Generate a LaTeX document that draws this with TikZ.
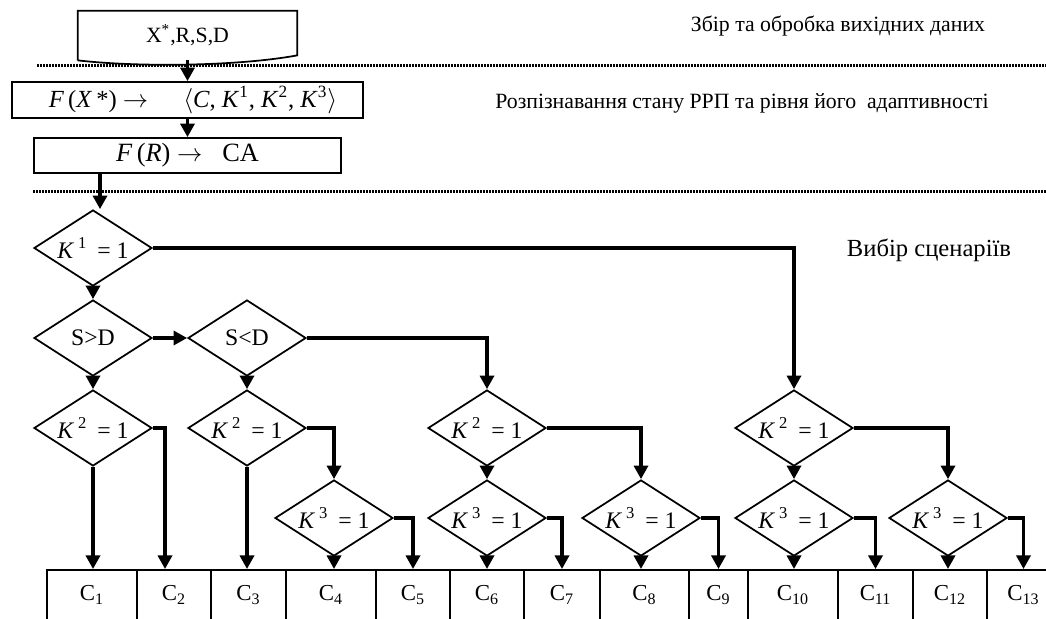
\documentclass[tikz,border=0pt]{standalone}
\usepackage{fontspec}
\setmainfont{Liberation Serif}
\usetikzlibrary{shapes.geometric,arrows.meta}

\begin{document}
\begin{tikzpicture}[x=0.2mm,y=-0.2mm,font=\fontsize{12.4}{14}\selectfont,
	cond/.style={draw,diamond,line width=0.35mm,minimum width=23.6mm,minimum height=15.2mm,inner sep=0pt,font=\fontsize{13.5}{15}\selectfont},
	blk/.style={draw,rectangle,line width=0.35mm,inner sep=0pt},
	cell/.style={draw,rectangle,line width=0.35mm,anchor=north,inner sep=0pt,text height=6.2mm,text depth=8mm,font=\fontsize{13}{15}\selectfont},
	flow/.style={line width=0.65mm,-{Triangle[length=2.7mm,width=2.8mm]}},
	sep/.style={line width=0.6mm,dash pattern=on 0.3mm off 0.3mm}]

	\useasboundingbox (0,0) rectangle (1046,619);
	\clip (0,0) rectangle (1046,619);

	% input data and recognition
	\node[minimum width=43.8mm,minimum height=9.8mm,inner sep=0pt] (inp) at (187.5,35.5) {X\textsuperscript{*},R,S,D};
	\draw[line width=0.35mm] (inp.south west) -- (inp.north west) -- (inp.north east) -- ([yshift=1mm]inp.south east) .. controls +(-12mm,-2.2mm) and +(12mm,-1.4mm) .. (inp.south west);
	\node[blk,minimum width=70.2mm,minimum height=7.2mm,font=\fontsize{14}{16}\selectfont] (map) at (187.5,100) {\hspace{2.2mm}\textit{F}\,(\textit{X}\,*) $\rightarrow$\hspace{7mm}$\Big\langle$\textit{C}, \textit{K}\textsuperscript{1}, \textit{K}\textsuperscript{2}, \textit{K}\textsuperscript{3}$\Big\rangle$};
	\node[blk,minimum width=61.4mm,minimum height=7mm,font=\fontsize{15}{17}\selectfont] (ca) at (187.5,155.5) {\textit{F}\,(\textit{R}) $\rightarrow$\hspace{4mm}CA\hspace{9.8mm}};

	\node (lbl1) at (838,26) {Збір та обробка вихідних даних};
	\node (lbl2) at (742,103) {Розпізнавання стану РРП та рівня його~ адаптивності};
	\node[font=\fontsize{14}{16}\selectfont] (lbl3) at (929,250) {Вибір сценаріїв};

	\draw[sep] (37,66) -- (1046,66);
	\draw[sep] (33,192) -- (1046,192);

	% scenario choice
	\node[cond] (k1) at (93,248) {\makebox[8mm]{\textit{K}\,\textsuperscript{1}\hspace{2mm}=\hspace{1.2mm}1}};
	\node[cond] (sd1) at (93,338) {\makebox[8mm]{S>D}};
	\node[cond] (sd2) at (247,338) {\makebox[8mm]{S<D}};

	\node[cond] (k2a) at (93,428) {\makebox[8mm]{\textit{K}\,\textsuperscript{2}\hspace{2mm}=\hspace{1.2mm}1}};
	\node[cond] (k2b) at (247,428) {\makebox[8mm]{\textit{K}\,\textsuperscript{2}\hspace{2mm}=\hspace{1.2mm}1}};
	\node[cond] (k2c) at (487,428) {\makebox[8mm]{\textit{K}\,\textsuperscript{2}\hspace{2mm}=\hspace{1.2mm}1}};
	\node[cond] (k2d) at (794,428) {\makebox[8mm]{\textit{K}\,\textsuperscript{2}\hspace{2mm}=\hspace{1.2mm}1}};

	\node[cond] (k3a) at (334,518) {\makebox[8mm]{\textit{K}\,\textsuperscript{3}\hspace{2mm}=\hspace{1.2mm}1}};
	\node[cond] (k3b) at (487,518) {\makebox[8mm]{\textit{K}\,\textsuperscript{3}\hspace{2mm}=\hspace{1.2mm}1}};
	\node[cond] (k3c) at (641,518) {\makebox[8mm]{\textit{K}\,\textsuperscript{3}\hspace{2mm}=\hspace{1.2mm}1}};
	\node[cond] (k3d) at (794,518) {\makebox[8mm]{\textit{K}\,\textsuperscript{3}\hspace{2mm}=\hspace{1.2mm}1}};
	\node[cond] (k3e) at (948,518) {\makebox[8mm]{\textit{K}\,\textsuperscript{3}\hspace{2mm}=\hspace{1.2mm}1}};

	% scenarios
	\node[cell,minimum width=18mm] (c1) at (92,569) {C\textsubscript{1}};
	\node[cell,minimum width=14.8mm] (c2) at (174,569) {C\textsubscript{2}};
	\node[cell,minimum width=15mm] (c3) at (248.5,569) {C\textsubscript{3}};
	\node[cell,minimum width=18mm] (c4) at (331,569) {C\textsubscript{4}};
	\node[cell,minimum width=14.8mm] (c5) at (413,569) {C\textsubscript{5}};
	\node[cell,minimum width=14.8mm] (c6) at (487,569) {C\textsubscript{6}};
	\node[cell,minimum width=15.2mm] (c7) at (562,569) {C\textsubscript{7}};
	\node[cell,minimum width=17.8mm] (c8) at (644.5,569) {C\textsubscript{8}};
	\node[cell,minimum width=11.8mm] (c9) at (718.5,569) {C\textsubscript{9}};
	\node[cell,minimum width=18mm] (c10) at (793,569) {C\textsubscript{10}};
	\node[cell,minimum width=15mm] (c11) at (875.5,569) {C\textsubscript{11}};
	\node[cell,minimum width=14.8mm] (c12) at (950,569) {C\textsubscript{12}};
	\node[cell,minimum width=14.6mm] (c13) at (1023.5,569) {C\textsubscript{13}};

	\draw[flow] (inp.south) -- (map.north);
	\draw[flow] (map.south) -- (ca.north);
	\draw[flow] ([xshift=1.4mm]ca.south -| k1.north) -- ([xshift=1.4mm]k1.north);

	\draw[flow] (k1.south) -- (sd1.north);
	\draw[flow] (k1.east) -| (k2d.north);
	\draw[flow] (sd1.east) -- (sd2.west);
	\draw[flow] (sd1.south) -- (k2a.north);
	\draw[flow] (sd2.south) -- (k2b.north);
	\draw[flow] (sd2.east) -| (k2c.north);

	\draw[flow] (k2a.south) -- (k2a.south |- c1.north);
	\draw[flow] (k2a.east) -| ([xshift=-1.8mm]c2.north);
	\draw[flow] (k2b.south) -- (k2b.south |- c3.north);
	\draw[flow] (k2b.east) -| (k3a.north);
	\draw[flow] (k2c.south) -- (k3b.north);
	\draw[flow] (k2c.east) -| (k3c.north);
	\draw[flow] (k2d.south) -- (k3d.north);
	\draw[flow] (k2d.east) -| (k3e.north);

	\draw[flow] (k3a.south) -- (k3a.south |- c4.north);
	\draw[flow] (k3a.east) -| (c5.north);
	\draw[flow] (k3b.south) -- (k3b.south |- c6.north);
	\draw[flow] (k3b.east) -| (c7.north);
	\draw[flow] (k3c.south) -- (k3c.south |- c8.north);
	\draw[flow] (k3c.east) -| (c9.north);
	\draw[flow] (k3d.south) -- (k3d.south |- c10.north);
	\draw[flow] (k3d.east) -| (c11.north);
	\draw[flow] (k3e.south) -- (k3e.south |- c12.north);
	\draw[flow] (k3e.east) -| (c13.north);

\end{tikzpicture}
\end{document}
